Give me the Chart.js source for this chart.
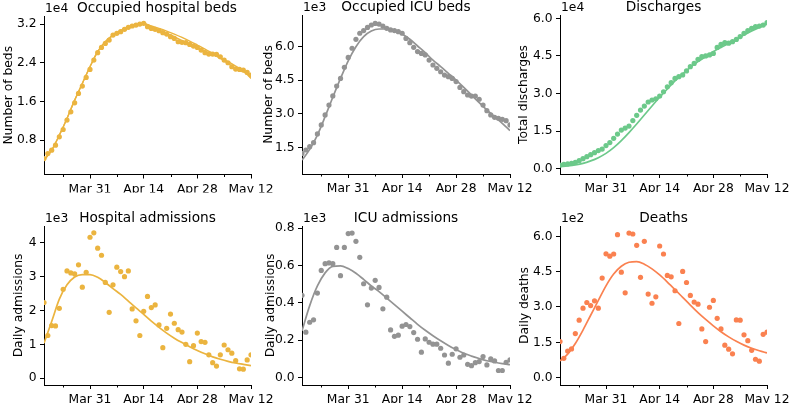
<!DOCTYPE html>
<html>
<head>
<meta charset="utf-8">
<script src="https://cdn.jsdelivr.net/npm/chart.js@4.4.0/dist/chart.umd.min.js"></script>
<style>
  body { margin: 0; background: #fff; }
  #wrap { position: relative; width: 789px; height: 406px; }
  #wrap canvas { position: absolute; left: 0; top: 0; }
</style>
</head>
<body>
<div id="wrap">
  <canvas id="c0" width="789" height="406"></canvas>
  <canvas id="c1" width="789" height="406"></canvas>
  <canvas id="c2" width="789" height="406"></canvas>
  <canvas id="c3" width="789" height="406"></canvas>
  <canvas id="c4" width="789" height="406"></canvas>
  <canvas id="c5" width="789" height="406"></canvas>
</div>
<script>
// days since Mar 19
var dotDays = [0,1,2,3,4,5,6,7,8,9,10,11,12,13,14,15,16,17,18,19,20,21,22,23,24,25,26,27,
  28,29,30,31,32,33,34,35,36,37,38,39,40,41,42,43,44,45,46,47,48,49,50,51,52,53,54];
var fitDays = [0,2,4,6,8,10,12,14,16,18,20,22,24,26,28,30,32,34,36,38,40,42,44,46,48,50,52,54];

var xTickDays = [12, 26, 40, 54];
var xTickLabels = ['Mar 31', 'Apr 14', 'Apr 28', 'May 12'];
var xMinorDays = [5, 19, 33, 47];

// occupied hospital beds
var bedsObs = [4200,5240,5930,6960,8690,10200,12140,13860,15720,17660,19170,20970,22620,24550,
  26070,27170,28000,28690,29720,30070,30410,30900,31310,31590,31790,32000,32140,31450,31100,
  30900,30620,30210,29930,29380,29030,28340,28210,28140,27790,27450,27170,26620,26070,25790,
  25790,25720,25240,24550,24000,23170,22690,22620,22480,22000,21450];
var bedsFitA = [3860,5930,9030,12480,16270,19720,23170,26280,28340,29720,30620,31310,31790,32140,
  31590,31100,30550,29930,29240,28480,27660,26830,25930,25030,24210,23310,22340,20760];
var bedsFitB = [3860,5930,9030,12480,16270,19720,23170,26280,28340,29720,30620,31310,31790,32140,
  31310,30760,30070,29380,28550,27790,27100,26410,25720,24890,23860,22830,22140,21240];
var bedsTicks = [8000, 16000, 24000, 32000];
var bedsTickLabels = ['0.8', '1.6', '2.4', '3.2'];

// occupied ICU beds
var icuBedsObs = [1230,1380,1530,1710,2100,2500,2950,3390,3800,4240,4580,5080,5520,5930,6330,
  6600,6720,6860,6970,7040,7010,6920,6820,6750,6720,6670,6600,6370,6180,5970,5780,5700,5630,
  5400,5180,5030,4880,4730,4660,4580,4440,4180,3990,3840,3790,3790,3650,3390,3140,2950,2840,
  2800,2750,2690,2500];
var icuBedsFit = [930,1410,2050,2870,3740,4580,5370,6000,6450,6700,6790,6790,6720,6570,6330,
  6030,5730,5400,5110,4810,4510,4180,3840,3500,3170,2870,2570,2250];
var icuBedsTicks = [1500, 3000, 4500, 6000];
var icuBedsTickLabels = ['1.5', '3.0', '4.5', '6.0'];

// total discharges
var dischargesObs = [1460,1700,1900,2100,2500,3200,4000,4800,5600,6400,7200,7800,9200,10400,
  12100,13800,15400,16200,17000,19200,21300,23400,25000,26600,27400,27900,29000,30700,32700,
  34300,36000,36700,37400,39000,40700,42000,43600,44700,45000,45400,46000,48400,49600,50300,
  50100,50700,51600,52700,54000,55100,56000,56700,56900,57300,58300];
var dischargesFit = [800,1100,1500,2100,3100,4400,6100,8400,11200,14400,17800,21400,25000,28500,
  31800,35000,37800,40400,42700,44700,46700,48400,50000,51600,53300,54900,56400,57700];
var dischargesTicks = [0, 15000, 30000, 45000, 60000];
var dischargesTickLabels = ['0.0', '1.5', '3.0', '4.5', '6.0'];

// daily hospital admissions
var admissionsObs = [2230,1260,1550,1540,2060,2620,3160,3100,3070,3340,2680,3120,4150,4280,3830,
  3620,2820,1940,2750,3270,3140,2990,3160,2040,1690,1260,1970,2410,2080,2160,1570,900,1470,
  1890,1620,1430,1360,1000,490,960,1330,1080,1060,690,460,360,690,980,840,740,520,280,270,540,690];
var admissionsFit = [1030,1670,2330,2750,2980,3050,3050,2970,2820,2640,2470,2270,2070,1880,1680,
  1500,1330,1180,1050,930,820,720,630,560,500,450,410,370];
var admissionsTicks = [0, 1000, 2000, 3000, 4000];
var admissionsTickLabels = ['0', '1', '2', '3', '4'];

// daily ICU admissions
var icuAdmObs = [440,243,296,309,452,573,609,613,609,696,545,696,770,773,729,643,502,389,479,520,
  482,368,430,255,221,227,275,284,273,241,205,136,207,189,179,179,157,121,77,125,154,109,121,
  71,64,80,86,113,68,100,89,38,38,82,95];
var icuAdmFit = [250,385,490,560,595,598,583,558,525,490,460,425,390,355,320,285,253,224,197,
  172,150,130,115,102,90,82,75,69];
var icuAdmTicks = [0, 200, 400, 600, 800];
var icuAdmTickLabels = ['0.0', '0.2', '0.4', '0.6', '0.8'];

// daily deaths
var deathsObs = [153,82,113,122,187,244,295,319,306,326,295,423,526,516,525,607,448,360,614,610,
  562,426,579,355,316,343,559,525,434,428,369,230,451,404,349,321,312,207,153,299,328,252,207,
  138,121,101,245,244,182,157,116,78,70,184,193];
var deathsFit = [71,100,145,202,265,328,390,440,473,490,493,482,462,436,406,374,341,308,276,247,
  220,195,173,154,138,125,114,105];
var deathsTicks = [0, 150, 300, 450, 600];
var deathsTickLabels = ['0.0', '1.5', '3.0', '4.5', '6.0'];

var YELLOW = '#ebb43f';
var GREY = '#939393';
var GREEN = '#6cc98a';
var ORANGE = '#fa8150';

var panels = [
  { title: 'Occupied hospital beds', ylabel: 'Number of beds', offset: '1e4', color: YELLOW,
    obs: bedsObs, fits: [bedsFitA, bedsFitB], ticks: bedsTicks, tickLabels: bedsTickLabels,
    ymin: 900, ymax: 33660, area: [44, 16, 251, 174.5], ylabelX: 8.5, titleDx: 9.5 },
  { title: 'Occupied ICU beds', ylabel: 'Number of beds', offset: '1e3', color: GREY,
    obs: icuBedsObs, fits: [icuBedsFit], ticks: icuBedsTicks, tickLabels: icuBedsTickLabels,
    ymin: 308, ymax: 7416, area: [302, 15, 510, 174], ylabelX: 268.5, titleDx: 0 },
  { title: 'Discharges', ylabel: 'Total discharges', offset: '1e4', color: GREEN,
    obs: dischargesObs, fits: [dischargesFit], ticks: dischargesTicks, tickLabels: dischargesTickLabels,
    ymin: -2130, ymax: 61330, area: [560, 15, 767, 174], ylabelX: 524, titleDx: 0 },
  { title: 'Hospital admissions', ylabel: 'Daily admissions', offset: '1e3', color: YELLOW,
    obs: admissionsObs, fits: [admissionsFit], ticks: admissionsTicks, tickLabels: admissionsTickLabels,
    ymin: -197, ymax: 4481, area: [44, 226, 251, 385], ylabelX: 19, titleDx: 0 },
  { title: 'ICU admissions', ylabel: 'Daily admissions', offset: '1e3', color: GREY,
    obs: icuAdmObs, fits: [icuAdmFit], ticks: icuAdmTicks, tickLabels: icuAdmTickLabels,
    ymin: -39.5, ymax: 810.7, area: [302, 226, 510, 385], ylabelX: 271, titleDx: 0 },
  { title: 'Deaths', ylabel: 'Daily deaths', offset: '1e2', color: ORANGE,
    obs: deathsObs, fits: [deathsFit], ticks: deathsTicks, tickLabels: deathsTickLabels,
    ymin: -31.3, ymax: 644, area: [560, 226, 767, 385], ylabelX: 525, titleDx: 0 }
];

Chart.defaults.font.family = "'DejaVu Sans', sans-serif";
Chart.defaults.color = '#000';

var decor = {
  id: 'decor',
  afterDraw: function(chart, args, opts) {
    var ctx = chart.ctx, a = chart.chartArea, x = chart.scales.x;
    ctx.save();
    ctx.strokeStyle = '#000';
    ctx.lineWidth = 1;
    xMinorDays.forEach(function(d) {
      var px = Math.round(x.getPixelForValue(d)) + 0.5;
      ctx.beginPath();
      ctx.moveTo(px, a.bottom);
      ctx.lineTo(px, a.bottom + 2.5);
      ctx.stroke();
    });
    ctx.fillStyle = '#000';
    ctx.textBaseline = 'alphabetic';
    ctx.font = "12.3px 'DejaVu Sans'";
    ctx.textAlign = 'left';
    ctx.fillText(opts.offset, a.left + 1, a.top - 4.5);
    ctx.font = "13.7px 'DejaVu Sans'";
    ctx.textAlign = 'center';
    ctx.fillText(opts.title, (a.left + a.right) / 2 + opts.titleDx, a.top - 4.5);
    ctx.restore();
  }
};

panels.forEach(function(p, k) {
  var L = p.area[0], T = p.area[1], R = p.area[2], B = p.area[3];
  var yLeft = p.ylabelX - 7.4;
  var yWidth = L - yLeft;
  var xHeight = 18;

  var datasets = [{
    data: dotDays.map(function(d, i) { return { x: d, y: p.obs[i] }; }),
    backgroundColor: p.color,
    borderWidth: 0,
    pointRadius: 2.6,
    clip: 0,
    order: 1
  }];
  p.fits.forEach(function(f) {
    datasets.push({
      data: fitDays.map(function(d, i) { return { x: d, y: f[i] }; }),
      showLine: true,
      borderColor: p.color,
      borderWidth: p.fits.length > 1 ? 1.4 : 1.7,
      pointRadius: 0,
      cubicInterpolationMode: 'monotone',
      clip: 0,
      order: 2
    });
  });

  new Chart(document.getElementById('c' + k), {
    type: 'scatter',
    data: { datasets: datasets },
    plugins: [decor],
    options: {
      responsive: false,
      animation: false,
      devicePixelRatio: 1,
      events: [],
      layout: { padding: { left: yLeft, top: T, right: 789 - R, bottom: 406 - B - xHeight } },
      plugins: {
        legend: { display: false },
        tooltip: { enabled: false },
        decor: { title: p.title, offset: p.offset, titleDx: p.titleDx }
      },
      scales: {
        x: {
          type: 'linear', position: 'bottom', min: 0, max: 54,
          afterBuildTicks: function(s) { s.ticks = xTickDays.map(function(v) { return { value: v }; }); },
          afterFit: function(s) { s.height = xHeight; s.paddingLeft = 0; s.paddingRight = 0; },
          ticks: {
            callback: function(v, i) { return xTickLabels[i]; },
            font: { size: 12.3 }, color: '#000', padding: 3.5, maxRotation: 0, autoSkip: false
          },
          grid: { drawOnChartArea: false, drawTicks: true, tickLength: 4, color: '#000', tickWidth: 1 },
          border: { display: true, color: '#000', width: 1 }
        },
        y: {
          type: 'linear', position: 'left', min: p.ymin, max: p.ymax,
          afterBuildTicks: function(s) { s.ticks = p.ticks.map(function(v) { return { value: v }; }); },
          afterFit: function(s) { s.width = yWidth; s.paddingTop = 0; s.paddingBottom = 0; },
          ticks: {
            callback: function(v, i) { return p.tickLabels[i]; },
            font: { size: 12.3 }, color: '#000', padding: 3.5, autoSkip: false
          },
          title: { display: true, text: p.ylabel, font: { size: 12.3 }, color: '#000', padding: 0 },
          grid: { drawOnChartArea: false, drawTicks: true, tickLength: 4, color: '#000', tickWidth: 1 },
          border: { display: true, color: '#000', width: 1 }
        }
      }
    }
  });
});
</script>
</body>
</html>
